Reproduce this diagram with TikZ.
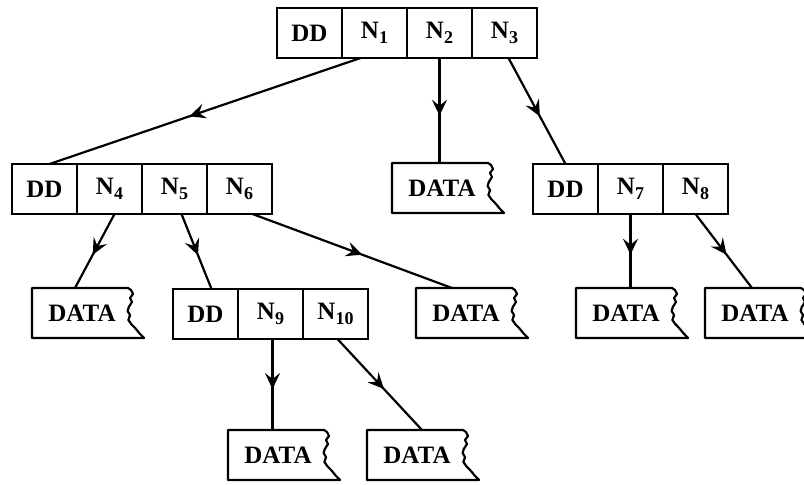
\documentclass[tikz,border=0pt]{standalone}
\usepackage{fontspec}
\setmainfont{Liberation Serif}
\usetikzlibrary{positioning,arrows.meta,decorations.markings}
\newcommand{\nsub}[1]{N\raisebox{-0.4ex}{\fontsize{9}{9}\selectfont #1}}
\tikzset{
    record-cell/.style = {draw, line width=1.1pt, rectangle, minimum width=32.5pt, minimum height=25pt, inner sep=0pt, outer sep=0pt, font=\fontsize{12.5}{14}\selectfont\bfseries},
    data-box/.style = {rectangle, minimum width=50pt, minimum height=25pt, inner sep=0pt, outer sep=0pt, font=\fontsize{12.5}{14}\selectfont\bfseries,
        append after command={\pgfextra{\draw[line width=1.1pt, line join=round] (\tikzlastnode.north west) -- ([xshift=-2pt]\tikzlastnode.north east)
            -- ++(1.5pt,-1pt) -- ++(1pt,-2pt) -- ++(-1.5pt,-2pt) -- ++(1pt,-2pt) -- ++(-1.6pt,-2.5pt) -- ++(-0.6pt,-2pt)
            -- ++(1.2pt,-2pt) -- ++(-0.8pt,-2.5pt) -- ++(1.4pt,-2pt) -- ++(1.5pt,-1.5pt) -- ++(1.3pt,-1.5pt) -- ++(1.2pt,-1.5pt) -- ++(1pt,-1pt)
            -- ([xshift=6pt]\tikzlastnode.south east) -- (\tikzlastnode.south west) -- cycle;}}},
    mid-arrow/.style = {line width=1.1pt, postaction={decorate}, decoration={markings, mark=at position 0.55 with {\arrow{Stealth[length=8pt,width=7.5pt,inset=3pt]}}}},
}

\begin{document}
\begin{tikzpicture}[x=0.5pt, y=-0.5pt]
\useasboundingbox (0,0) rectangle (804,484);

\node[record-cell] (dd1) at (309.5,33) {DD};
\node[record-cell, right=0pt of dd1] (n1) {\nsub{1}};
\node[record-cell, right=0pt of n1] (n2) {\nsub{2}};
\node[record-cell, right=0pt of n2] (n3) {\nsub{3}};

\node[record-cell] (dd4) at (44.5,189) {DD};
\node[record-cell, right=0pt of dd4] (n4) {\nsub{4}};
\node[record-cell, right=0pt of n4] (n5) {\nsub{5}};
\node[record-cell, right=0pt of n5] (n6) {\nsub{6}};

\node[data-box] (d2) at (442,188) {DATA};

\node[record-cell] (dd7) at (565.5,189) {DD};
\node[record-cell, right=0pt of dd7] (n7) {\nsub{7}};
\node[record-cell, right=0pt of n7] (n8) {\nsub{8}};

\node[data-box] (d4) at (82,313) {DATA};
\node[record-cell] (dd9) at (205.5,314) {DD};
\node[record-cell, right=0pt of dd9] (n9) {\nsub{9}};
\node[record-cell, right=0pt of n9] (n10) {\nsub{10}};
\node[data-box] (d6) at (466,313) {DATA};
\node[data-box] (d7) at (626,313) {DATA};
\node[data-box] (d8) at (755,313) {DATA};

\node[data-box] (d9) at (278,455) {DATA};
\node[data-box] (d10) at (417,455) {DATA};

\draw[mid-arrow] ([xshift=-7pt]n1.south) -- ([xshift=2.5pt]dd4.north);
\draw[mid-arrow] (n2.south) -- (n2.south |- d2.north);
\draw[mid-arrow] ([xshift=2pt]n3.south) -- (dd7.north);
\draw[mid-arrow] ([xshift=2.5pt]n4.south) -- ([xshift=-3.5pt]d4.north);
\draw[mid-arrow] ([xshift=3.5pt]n5.south) -- ([xshift=3pt]dd9.north);
\draw[mid-arrow] ([xshift=6.5pt]n6.south) -- ([xshift=-7pt]d6.north);
\draw[mid-arrow] (n7.south) -- (n7.south |- d7.north);
\draw[mid-arrow] (n8.south) -- ([xshift=-1.5pt]d8.north);
\draw[mid-arrow] ([xshift=1pt]n9.south) -- ([xshift=1pt]n9.south |- d9.north);
\draw[mid-arrow] ([xshift=1pt]n10.south) -- ([xshift=2.5pt]d10.north);
\end{tikzpicture}
\end{document}
